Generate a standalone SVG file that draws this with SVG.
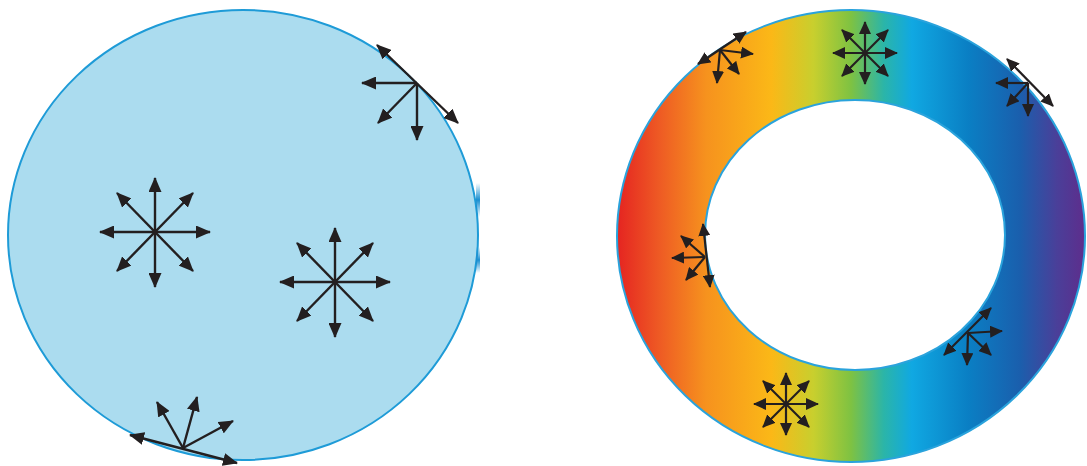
<svg xmlns="http://www.w3.org/2000/svg" width="1087" height="466" viewBox="0 0 1087 466">
<style>
.ar{stroke:#231f20;stroke-width:2.4;fill:none;marker-start:url(#ah);marker-end:url(#ah)}
.a1{stroke:#231f20;stroke-width:2.4;fill:none;marker-end:url(#ah)}
.sr{stroke:#231f20;stroke-width:2.2;fill:none;marker-start:url(#as);marker-end:url(#as)}
.s1{stroke:#231f20;stroke-width:2.2;fill:none;marker-end:url(#as)}
.edge{fill:none;stroke:#2aa3dc;stroke-width:2}
</style>
<defs>
<marker id="ah" markerUnits="userSpaceOnUse" viewBox="0 0 15 13" refX="14" refY="6.5" markerWidth="15" markerHeight="13" orient="auto-start-reverse"><path d="M0,0 L15,6.5 L0,13 z" fill="#231f20"/></marker>
<marker id="as" markerUnits="userSpaceOnUse" viewBox="0 0 13 12" refX="12" refY="6" markerWidth="13" markerHeight="12" orient="auto-start-reverse"><path d="M0,0 L13,6 L0,12 z" fill="#231f20"/></marker>
<linearGradient id="rg" gradientUnits="userSpaceOnUse" x1="617" y1="0" x2="1085" y2="0">
<stop offset="0" stop-color="#e52421"/>
<stop offset="0.09" stop-color="#ee5a24"/>
<stop offset="0.19" stop-color="#f6921e"/>
<stop offset="0.33" stop-color="#fbb817"/>
<stop offset="0.42" stop-color="#c8cf2e"/>
<stop offset="0.5" stop-color="#7ec242"/>
<stop offset="0.57" stop-color="#2bb5a8"/>
<stop offset="0.63" stop-color="#10a8e2"/>
<stop offset="0.75" stop-color="#0a7fc4"/>
<stop offset="0.86" stop-color="#1a5fad"/>
<stop offset="0.94" stop-color="#4a3f99"/>
<stop offset="1" stop-color="#5e2d8c"/>
</linearGradient>
<linearGradient id="gl" x1="0" y1="0" x2="0" y2="1">
<stop offset="0" stop-color="#1b8fd0" stop-opacity="0"/>
<stop offset="0.5" stop-color="#1b8fd0" stop-opacity="1"/>
<stop offset="1" stop-color="#1b8fd0" stop-opacity="0"/>
</linearGradient>
<g id="bigstar">
<line class="ar" x1="-55" y1="0" x2="55" y2="0"/>
<line class="ar" x1="0" y1="-54" x2="0" y2="55"/>
<line class="ar" x1="-38" y1="-39" x2="38" y2="39"/>
<line class="ar" x1="-38" y1="39" x2="38" y2="-39"/>
</g>
<g id="smallstar">
<line class="sr" x1="-32" y1="0" x2="32" y2="0"/>
<line class="sr" x1="0" y1="-31" x2="0" y2="31"/>
<line class="sr" x1="-23" y1="-23" x2="23" y2="23"/>
<line class="sr" x1="-23" y1="23" x2="23" y2="-23"/>
</g>
</defs>

<g id="disk">
<ellipse cx="243" cy="235" rx="235" ry="225" fill="#abdcef" stroke="#1e9bd7" stroke-width="2"/>
<rect x="476" y="183" width="4" height="34" fill="url(#gl)"/>
<rect x="476" y="247" width="4" height="26" fill="url(#gl)"/>
</g>

<g id="ring">
<path fill="url(#rg)" fill-rule="evenodd" d="M617,236 A234,226 0 1,0 1085,236 A234,226 0 1,0 617,236 Z M705,235 A150,135 0 1,0 1005,235 A150,135 0 1,0 705,235 Z"/>
<ellipse class="edge" cx="851" cy="236" rx="234" ry="226"/>
<ellipse class="edge" cx="855" cy="235" rx="150" ry="135"/>
</g>

<g id="connectors">
<g id="star-disk-1"><use href="#bigstar" transform="translate(155,232)"/></g>
<g id="star-disk-2"><use href="#bigstar" transform="translate(335,282)"/></g>
<g id="edge-disk-top">
<line class="ar" x1="377" y1="45" x2="458" y2="123"/>
<line class="a1" x1="417" y1="83" x2="362" y2="83"/>
<line class="a1" x1="417" y1="83" x2="417" y2="140"/>
<line class="a1" x1="417" y1="83" x2="378" y2="123"/>
</g>
<g id="edge-disk-bottom">
<line class="ar" x1="130" y1="435" x2="237" y2="463"/>
<line class="a1" x1="183" y1="448" x2="157" y2="402"/>
<line class="a1" x1="183" y1="448" x2="197" y2="397"/>
<line class="a1" x1="183" y1="448" x2="233" y2="421"/>
</g>
<g id="star-ring-top"><use href="#smallstar" transform="translate(865,53)"/></g>
<g id="star-ring-bottom"><use href="#smallstar" transform="translate(786,404)"/></g>
<g id="edge-ring-tl">
<line class="sr" x1="698" y1="64" x2="746" y2="32"/>
<line class="s1" x1="720" y1="50" x2="753" y2="54"/>
<line class="s1" x1="720" y1="50" x2="717" y2="83"/>
<line class="s1" x1="720" y1="50" x2="739" y2="74"/>
</g>
<g id="edge-ring-tr">
<line class="sr" x1="1007" y1="59" x2="1053" y2="106"/>
<line class="s1" x1="1028" y1="83" x2="996" y2="83"/>
<line class="s1" x1="1028" y1="83" x2="1028" y2="116"/>
<line class="s1" x1="1028" y1="83" x2="1007" y2="106"/>
</g>
<g id="edge-ring-l">
<line class="sr" x1="703" y1="224" x2="710" y2="287"/>
<line class="s1" x1="705" y1="257" x2="672" y2="258"/>
<line class="s1" x1="705" y1="257" x2="681" y2="236"/>
<line class="s1" x1="705" y1="257" x2="686" y2="280"/>
</g>
<g id="edge-ring-br">
<line class="sr" x1="944" y1="355" x2="991" y2="308"/>
<line class="s1" x1="968" y1="333" x2="1002" y2="331"/>
<line class="s1" x1="968" y1="333" x2="967" y2="365"/>
<line class="s1" x1="968" y1="333" x2="991" y2="355"/>
</g>
</g>
</svg>
